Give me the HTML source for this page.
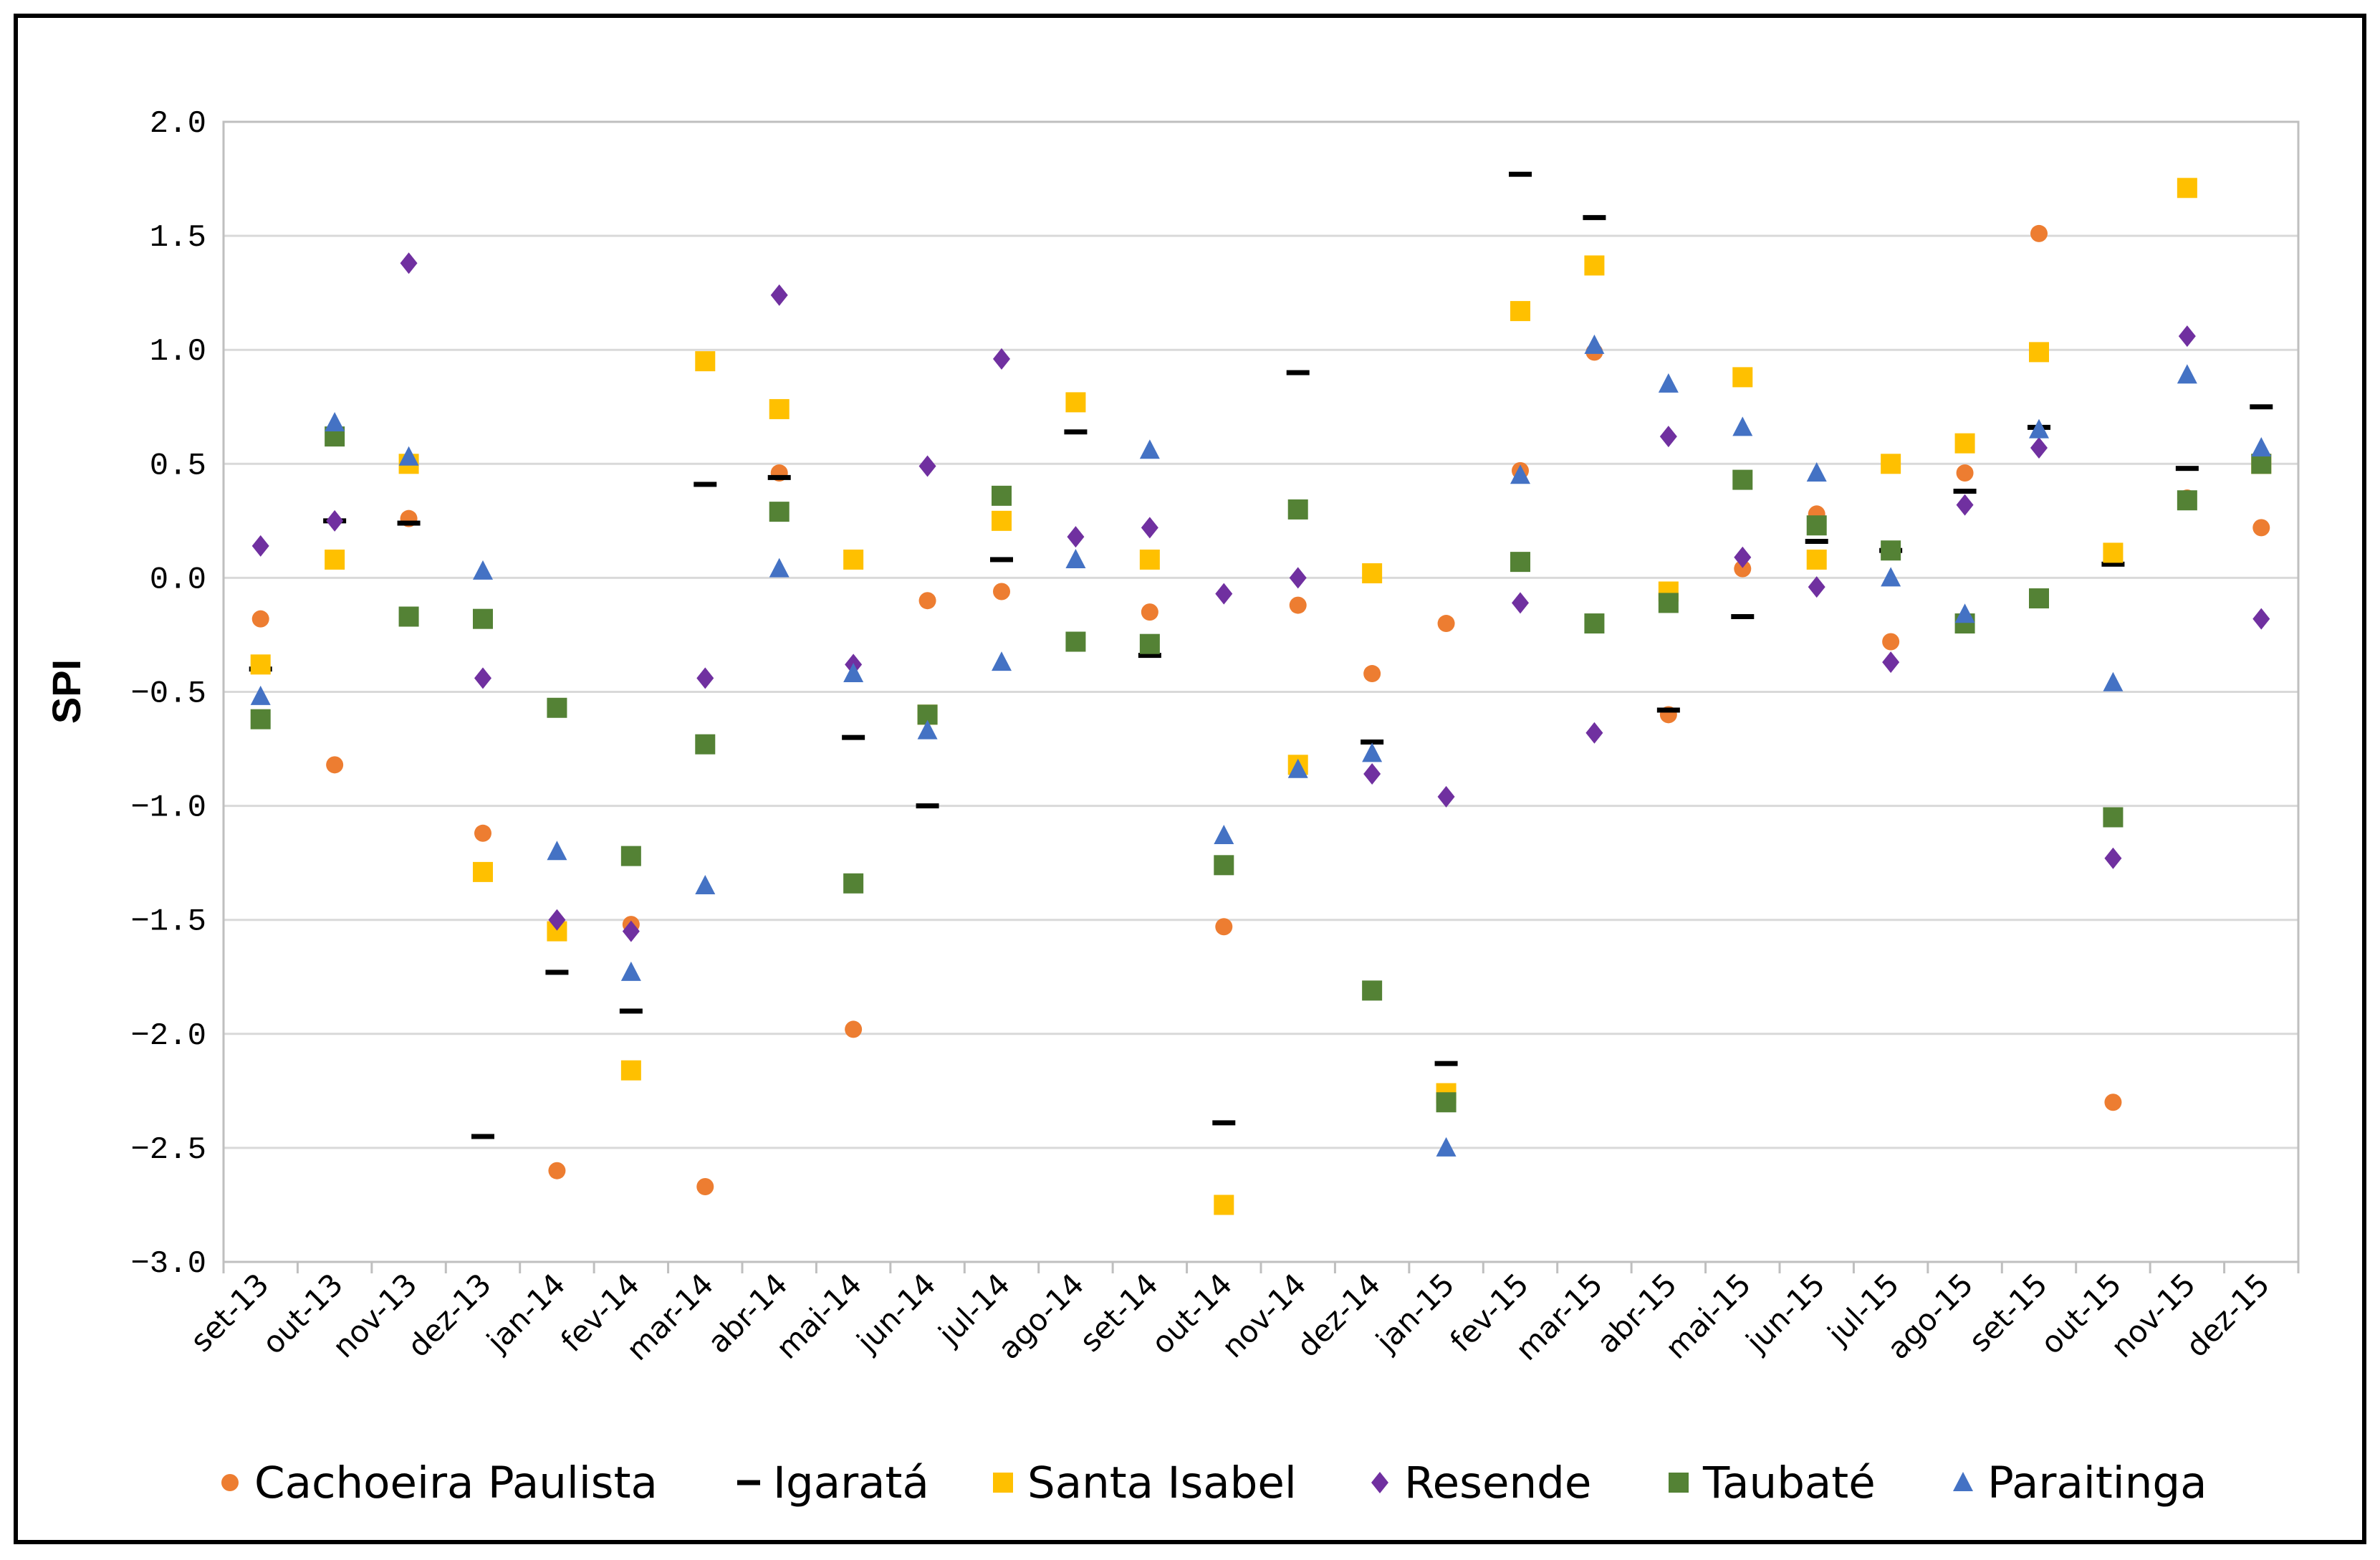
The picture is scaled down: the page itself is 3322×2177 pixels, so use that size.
<!DOCTYPE html>
<html><head><meta charset="utf-8"><style>
html,body{margin:0;padding:0;background:#fff;}
svg{display:block;}
</style></head><body>
<svg id="chart" width="3322" height="2177" viewBox="0 0 3322 2177" xmlns="http://www.w3.org/2000/svg">
<rect x="22" y="22" width="3278" height="2130" fill="#fff" stroke="#000" stroke-width="6"/>
<g id="grid"></g>
<rect x="312" y="170" width="2896" height="1591" fill="none" stroke="#bfbfbf" stroke-width="3"/>
<g id="yticks"></g>
<g id="xticks"></g>
<text x="112" y="965" transform="rotate(-90 112 965)" text-anchor="middle" font-family="Liberation Sans, sans-serif" font-weight="bold" font-size="56">SPI</text>
<g id="marks"></g>
<g id="legend"></g>
</svg>
<script>
const categories=["set-13","out-13","nov-13","dez-13","jan-14","fev-14","mar-14","abr-14","mai-14","jun-14","jul-14","ago-14","set-14","out-14","nov-14","dez-14","jan-15","fev-15","mar-15","abr-15","mai-15","jun-15","jul-15","ago-15","set-15","out-15","nov-15","dez-15"];
const yTicks=[2.0,1.5,1.0,0.5,0.0,-0.5,-1.0,-1.5,-2.0,-2.5,-3.0];
const seriesNames=["Cachoeira Paulista","Igaratá","Santa Isabel","Resende","Taubaté","Paraitinga"];
const cachoeira=[-0.18,-0.82,0.26,-1.12,-2.6,-1.52,-2.67,0.46,-1.98,-0.1,-0.06,-0.28,-0.15,-1.53,-0.12,-0.42,-0.2,0.47,0.99,-0.6,0.04,0.28,-0.28,0.46,1.51,-2.3,0.35,0.22];
const igarata=[-0.4,0.25,0.24,-2.45,-1.73,-1.9,0.41,0.44,-0.7,-1.0,0.08,0.64,-0.34,-2.39,0.9,-0.72,-2.13,1.77,1.58,-0.58,-0.17,0.16,0.12,0.38,0.66,0.06,0.48,0.75];
const santaIsabel=[-0.38,0.08,0.5,-1.29,-1.55,-2.16,0.95,0.74,0.08,-0.6,0.25,0.77,0.08,-2.75,-0.82,0.02,-2.26,1.17,1.37,-0.06,0.88,0.08,0.5,0.59,0.99,0.11,1.71,0.5];
const resende=[0.14,0.25,1.38,-0.44,-1.5,-1.55,-0.44,1.24,-0.38,0.49,0.96,0.18,0.22,-0.07,0.0,-0.86,-0.96,-0.11,-0.68,0.62,0.09,-0.04,-0.37,0.32,0.57,-1.23,1.06,-0.18];
const taubate=[-0.62,0.62,-0.17,-0.18,-0.57,-1.22,-0.73,0.29,-1.34,-0.6,0.36,-0.28,-0.29,-1.26,0.3,-1.81,-2.3,0.07,-0.2,-0.11,0.43,0.23,0.12,-0.2,-0.09,-1.05,0.34,0.5];
const paraitinga=[-0.52,0.68,0.53,0.03,-1.2,-1.73,-1.35,0.04,-0.42,-0.67,-0.37,0.08,0.56,-1.13,-0.84,-0.77,-2.5,0.45,1.02,0.85,0.66,0.46,0.0,-0.16,0.65,-0.46,0.89,0.57];

const NS="http://www.w3.org/2000/svg";
const L=312,R=3208,T=170,B=1761;
const bw=(R-L)/categories.length;
function xScale(i){return L+(i+0.5)*bw;}
function yScale(v){return T+(2-v)/5*(B-T);}
function mk(tag,attrs,parent){const e=document.createElementNS(NS,tag);for(const k in attrs)e.setAttribute(k,attrs[k]);parent.appendChild(e);return e;}
const grid=document.getElementById('grid'),yt=document.getElementById('yticks'),xt=document.getElementById('xticks'),marks=document.getElementById('marks'),legend=document.getElementById('legend');
yTicks.forEach(v=>{
  const y=yScale(v);
  const g=mk('line',{x1:L,x2:R,y1:y,y2:y,stroke:'#d9d9d9','stroke-width':3},grid);
  
  
  const t=mk('text',{x:L-24,y:y+14,'text-anchor':'end','font-family':'Liberation Mono, monospace','font-size':44,fill:'#000'},yt);
  t.textContent=v.toFixed(1).replace('-','\u2212');
  
  
});
for(let i=0;i<=categories.length;i++){
  const x=L+i*bw;
  const tk=mk('line',{x1:x,x2:x,y1:B,y2:B+16,stroke:'#bfbfbf','stroke-width':3},xt);
  
  
}
categories.forEach((c,i)=>{
  const x=xScale(i)+14,y=B+34;
  const t=mk('text',{x:x,y:y,'text-anchor':'end',transform:`rotate(-45 ${x} ${y})`,'font-family':'DejaVu Sans, Liberation Sans, sans-serif','font-size':42,fill:'#000'},xt);
  t.textContent=c;
  
  
});
const colors=['#ed7d31','#000000','#ffc000','#7030a0','#548235','#4472c4'];
const shapes=['circle','dash','square','diamond','square','triangle'];
function drawMarker(shape,color,x,y,parent){
  let e;
  if(shape==='circle')e=mk('circle',{cx:x,cy:y,r:12,fill:color},parent);
  else if(shape==='dash')e=mk('rect',{x:x-16,y:y-3.5,width:32,height:7,fill:color},parent);
  else if(shape==='square')e=mk('rect',{x:x-14,y:y-14,width:28,height:28,fill:color},parent);
  else if(shape==='diamond')e=mk('polygon',{points:`${x},${y-15} ${x+12},${y} ${x},${y+15} ${x-12},${y}`,fill:color},parent);
  else e=mk('polygon',{points:`${x},${y-15} ${x+14},${y+12} ${x-14},${y+12}`,fill:color},parent);
  return e;
}
const allSeries=[cachoeira,igarata,santaIsabel,resende,taubate,paraitinga];
allSeries.forEach((arr,s)=>{
  arr.forEach((v,i)=>{
    const e=drawMarker(shapes[s],colors[s],xScale(i),yScale(v),marks);
    
    
  });
});
const legX=[321,1045,1400,1926,2343,2740];
seriesNames.forEach((n,s)=>{
  const g=mk('g',{},legend);
  
  
  drawMarker(shapes[s],colors[s],legX[s],2069,g);
  const t=mk('text',{x:legX[s]+34,y:2090,'font-family':'DejaVu Sans, Liberation Sans, sans-serif','font-size':61,fill:'#000'},g);
  t.textContent=n;
});
</script>
</body></html>
